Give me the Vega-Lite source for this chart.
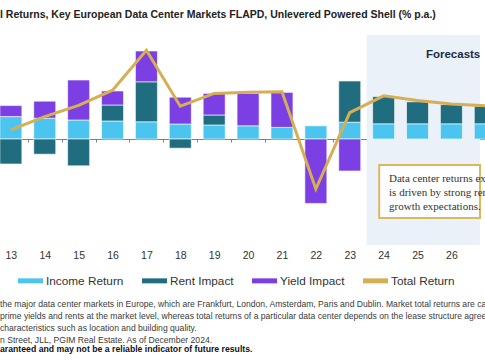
{
  "$schema": "https://vega.github.io/schema/vega-lite/v6.json",
  "padding": {"left": 0, "top": 9, "right": 0, "bottom": 0},
  "autosize": {"type": "pad"},
  "background": "white",
  "config": {"view": {"stroke": null}, "font": "Liberation Sans, Arial, sans-serif"},
  "title": {
    "text": [
      "the major data center markets in Europe, which are Frankfurt, London, Amsterdam, Paris and Dublin. Market total returns are calculated",
      "prime yields and rents at the market level, whereas total returns of a particular data center depends on the lease structure agreed",
      "characteristics such as location and building quality.",
      "n Street, JLL, PGIM Real Estate. As of December 2024."
    ],
    "subtitle": "aranteed and may not be a reliable indicator of future results.",
    "orient": "bottom", "anchor": "start", "frame": "group",
    "font": "Liberation Sans, Arial, sans-serif",
    "fontSize": 8.6, "fontWeight": "normal", "color": "#3a3a3a", "lineHeight": 12, "offset": 12,
    "subtitleFont": "Liberation Sans, Arial, sans-serif",
    "subtitleFontSize": 8.7, "subtitleFontWeight": "bold", "subtitleColor": "#111111",
    "subtitleLineHeight": 12, "subtitlePadding": 0
  },
  "datasets": {
    "components": [
      {"year": 13, "Component": "Income Return", "Value": 5.6},
      {"year": 13, "Component": "Rent Impact", "Value": -6.25},
      {"year": 13, "Component": "Yield Impact", "Value": 2.75},
      {"year": 14, "Component": "Income Return", "Value": 5.2},
      {"year": 14, "Component": "Rent Impact", "Value": -3.8},
      {"year": 14, "Component": "Yield Impact", "Value": 4.25},
      {"year": 15, "Component": "Income Return", "Value": 4.75},
      {"year": 15, "Component": "Rent Impact", "Value": -6.7},
      {"year": 15, "Component": "Yield Impact", "Value": 10.0},
      {"year": 16, "Component": "Income Return", "Value": 4.5},
      {"year": 16, "Component": "Rent Impact", "Value": 4.0},
      {"year": 16, "Component": "Yield Impact", "Value": 3.5},
      {"year": 17, "Component": "Income Return", "Value": 4.3},
      {"year": 17, "Component": "Rent Impact", "Value": 10.0},
      {"year": 17, "Component": "Yield Impact", "Value": 7.7},
      {"year": 18, "Component": "Income Return", "Value": 3.75},
      {"year": 18, "Component": "Rent Impact", "Value": -2.3},
      {"year": 18, "Component": "Yield Impact", "Value": 6.7},
      {"year": 19, "Component": "Income Return", "Value": 3.5},
      {"year": 19, "Component": "Rent Impact", "Value": 2.5},
      {"year": 19, "Component": "Yield Impact", "Value": 5.4},
      {"year": 20, "Component": "Income Return", "Value": 3.3},
      {"year": 20, "Component": "Yield Impact", "Value": 8.1},
      {"year": 21, "Component": "Income Return", "Value": 2.9},
      {"year": 21, "Component": "Yield Impact", "Value": 8.75},
      {"year": 22, "Component": "Income Return", "Value": 3.3},
      {"year": 22, "Component": "Yield Impact", "Value": -16.1},
      {"year": 23, "Component": "Income Return", "Value": 4.2},
      {"year": 23, "Component": "Rent Impact", "Value": 10.3},
      {"year": 23, "Component": "Yield Impact", "Value": -8.0},
      {"year": 24, "Component": "Income Return", "Value": 3.8},
      {"year": 24, "Component": "Rent Impact", "Value": 6.8},
      {"year": 25, "Component": "Income Return", "Value": 3.8},
      {"year": 25, "Component": "Rent Impact", "Value": 5.5},
      {"year": 26, "Component": "Income Return", "Value": 3.8},
      {"year": 26, "Component": "Rent Impact", "Value": 4.8},
      {"year": 27, "Component": "Income Return", "Value": 3.8},
      {"year": 27, "Component": "Rent Impact", "Value": 4.4}
    ],
    "total": [
      {"year": 13, "Total": 2.3},
      {"year": 14, "Total": 5.6},
      {"year": 15, "Total": 8.4},
      {"year": 16, "Total": 12.2},
      {"year": 17, "Total": 22.2},
      {"year": 18, "Total": 8.2},
      {"year": 19, "Total": 11.4},
      {"year": 20, "Total": 11.7},
      {"year": 21, "Total": 11.8},
      {"year": 22, "Total": -12.5},
      {"year": 23, "Total": 6.6},
      {"year": 24, "Total": 10.8},
      {"year": 25, "Total": 9.6},
      {"year": 26, "Total": 8.75},
      {"year": 27, "Total": 8.3}
    ]
  },
  "vconcat": [
    {
      "width": 485,
      "height": 210,
      "title": {
        "text": "l Returns, Key European Data Center Markets FLAPD, Unlevered Powered Shell (% p.a.)",
        "anchor": "start", "frame": "group", "fontSize": 10.5, "fontWeight": "bold",
        "font": "Liberation Sans, Arial, sans-serif", "color": "#222222", "offset": 15
      },
      "resolve": {"axis": {"x": "independent"}},
      "layer": [
        {
          "data": {"values": [{}]},
          "mark": {"type": "rect", "color": "#eaf1f8", "clip": true},
          "encoding": {
            "x": {"datum": 23.5, "type": "quantitative", "axis": null},
            "x2": {"datum": 26.844}
          }
        },
        {
          "data": {"name": "components"},
          "mark": {"type": "bar", "size": 22, "stroke": "white", "strokeWidth": 0.6, "clip": true},
          "encoding": {
            "x": {
              "field": "year", "type": "quantitative",
              "scale": {"domain": [12.827, 26.844], "nice": false, "zero": false},
              "axis": {
                "orient": "bottom", "offset": -106, "values": [13.5, 14.5, 15.5, 16.5, 17.5, 18.5, 19.5, 20.5, 21.5, 22.5, 23.5, 24.5, 25.5, 26.5],
                "labels": false, "domain": true, "domainColor": "#808080", "domainWidth": 1,
                "ticks": true, "tickColor": "#808080", "tickSize": 3, "grid": false, "title": null
              }
            },
            "y": {"field": "Value", "type": "quantitative", "stack": "zero", "scale": {"domain": [-26.5, 26], "nice": false, "zero": false}, "axis": null},
            "order": {"field": "Component", "type": "nominal", "sort": "ascending"},
            "color": {
              "field": "Component", "type": "nominal",
              "scale": {
                "domain": ["Income Return", "Rent Impact", "Yield Impact", "Total Return"],
                "range": ["#4cc4f0", "#216d80", "#7b3fe3", "#d6af55"]
              },
              "legend": {
                "orient": "none", "legendX": 18, "legendY": 233,
                "direction": "horizontal", "title": null,
                "labelFont": "Liberation Sans, Arial, sans-serif",
                "labelFontSize": 11.8, "labelColor": "#333333",
                "symbolType": "M-1,-0.2L1,-0.2L1,0.2L-1,0.2Z", "symbolSize": 625, "symbolStrokeWidth": 0,
                "columnPadding": 18, "labelOffset": 3,
                "encode": {
                  "symbols": {
                    "update": {
                      "shape": {"signal": "datum.value === 'Total Return' ? 'M-1,-0.05L1,-0.05L1,0.05L-1,0.05Z' : 'M-1,-0.2L1,-0.2L1,0.2L-1,0.2Z'"}
                    }
                  }
                }
              }
            }
          }
        },
        {
          "data": {"name": "total"},
          "mark": {"type": "line", "color": "#d6af55", "strokeWidth": 3, "clip": true},
          "encoding": {
            "x": {
              "field": "year", "type": "quantitative",
              "axis": {
                "orient": "bottom", "values": [13, 14, 15, 16, 17, 18, 19, 20, 21, 22, 23, 24, 25, 26],
                "format": "d", "domain": false, "ticks": false, "grid": false, "title": null,
                "labelFlush": false, "labelOverlap": false, "labelPadding": 5,
                "labelFont": "Liberation Sans, Arial, sans-serif",
                "labelFontSize": 10.5, "labelColor": "#333333"
              }
            },
            "y": {"field": "Total", "type": "quantitative"}
          }
        },
        {
          "data": {"values": [{}]},
          "mark": {"type": "rect", "fill": "white", "stroke": "#d9b85f", "strokeWidth": 2, "clip": true},
          "encoding": {
            "x": {"datum": 23.87, "type": "quantitative", "axis": null},
            "x2": {"datum": 26.844},
            "y": {"datum": -6.5, "type": "quantitative"},
            "y2": {"datum": -19.75}
          }
        },
        {
          "data": {"values": [{}]},
          "mark": {
            "type": "text", "align": "left", "baseline": "middle", "lineHeight": 14,
            "font": "Liberation Serif, DejaVu Serif, serif", "fontSize": 11, "color": "#333333",
            "text": ["Data center returns expected", "is driven by strong rental", "growth expectations."]
          },
          "encoding": {
            "x": {"datum": 24.16, "type": "quantitative", "axis": null},
            "y": {"datum": -10, "type": "quantitative"}
          }
        },
        {
          "data": {"values": [{}]},
          "mark": {
            "type": "text", "align": "center", "baseline": "middle",
            "font": "Liberation Sans, Arial, sans-serif",
            "fontSize": 11.5, "fontWeight": "bold", "color": "#1d2b4a", "text": "Forecasts"
          },
          "encoding": {
            "x": {"datum": 26.05, "type": "quantitative", "axis": null},
            "y": {"datum": 21, "type": "quantitative"}
          }
        }
      ]
    }
  ]
}
